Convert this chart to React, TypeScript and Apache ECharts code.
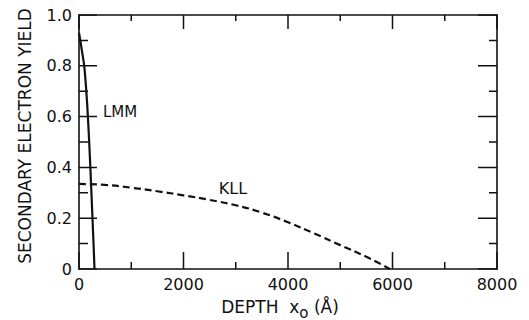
import React, { useEffect, useRef } from "react";
import * as echarts from "echarts";

const lmmDepth = [0, 25, 55, 100, 140, 170, 195, 217, 238, 258, 278, 297];
const lmmYield = [0.93, 0.9, 0.86, 0.8, 0.7, 0.6, 0.5, 0.4, 0.3, 0.2, 0.1, 0];

const kllDepth = [0, 500, 1000, 1500, 2000, 2500, 3000, 3500, 4000, 4500, 5000, 5500, 5950];
const kllYield = [0.335, 0.331, 0.32, 0.306, 0.29, 0.272, 0.251, 0.222, 0.184, 0.14, 0.094, 0.048, 0];

const xTicks = [0, 2000, 4000, 6000, 8000];
const xMinorTicks = [1000, 3000, 5000, 7000];
const yTicks = [0, 0.2, 0.4, 0.6, 0.8, 1.0];
const yMinorTicks = [0.1, 0.3, 0.5, 0.7, 0.9];

const lmmLabel = { text: "LMM", x: 785, y: 0.618 };
const kllLabel = { text: "KLL", x: 2947, y: 0.315 };

const FONT = "DejaVu Sans";
const INK = "#111";

const GRID = { left: 79, right: 32, top: 15, bottom: 51 };
const W = 529;
const H = 320;

function axLine() {
  return { show: true, onZero: false, lineStyle: { color: INK, width: 1.6 } };
}

export default function App() {
  const ref = useRef<HTMLDivElement>(null);
  useEffect(() => {
    if (!ref.current) return;
    const chart = echarts.init(ref.current, null, { renderer: "svg" });
    const pair = (xs: number[], ys: number[]) => xs.map((x, i) => [x, ys[i]]);
    const xMin = xTicks[0];
    const xMax = xTicks[xTicks.length - 1];
    const xInt = xTicks[1] - xTicks[0];
    const yMin = yTicks[0];
    const yMax = yTicks[yTicks.length - 1];
    const yInt = 0.2;

    // pixel -> data-unit conversion for tick lengths
    const plotW = W - GRID.left - GRID.right;
    const plotH = H - GRID.top - GRID.bottom;
    const dx = (px: number) => (px * (xMax - xMin)) / plotW;
    const dy = (px: number) => (px * (yMax - yMin)) / plotH;

    const tickSeries: any[] = [];
    const seg = (a: number[], b: number[]) => ({
      type: "line",
      xAxisIndex: 0,
      yAxisIndex: 0,
      data: [a, b],
      showSymbol: false,
      symbol: "none",
      silent: true,
      z: 3,
      lineStyle: { color: INK, width: 1.5, type: "solid" },
      tooltip: { show: false },
    });
    xTicks.forEach((v) => {
      tickSeries.push(seg([v, yMin], [v, yMin + dy(17)]));
      tickSeries.push(seg([v, yMax], [v, yMax - dy(14)]));
    });
    xMinorTicks.forEach((v) => {
      tickSeries.push(seg([v, yMin], [v, yMin + dy(7)]));
      tickSeries.push(seg([v, yMax], [v, yMax - dy(6)]));
    });
    yTicks.forEach((v) => {
      tickSeries.push(seg([xMin, v], [xMin + dx(18), v]));
      tickSeries.push(seg([xMax, v], [xMax - dx(19), v]));
    });
    yMinorTicks.forEach((v) => {
      tickSeries.push(seg([xMin, v], [xMin + dx(9), v]));
      tickSeries.push(seg([xMax, v], [xMax - dx(8), v]));
    });

    chart.setOption({
      animation: false,
      backgroundColor: "#fff",
      grid: { ...GRID, outerBoundsMode: "none", containLabel: false },
      xAxis: [
        {
          type: "value",
          position: "bottom",
          min: xMin,
          max: xMax,
          interval: xInt,
          splitLine: { show: false },
          axisLine: axLine(),
          axisTick: { show: false },
          axisLabel: {
            show: true,
            margin: 7,
            color: INK,
            fontFamily: FONT,
            fontSize: 16,
            formatter: (v: number) => String(v),
          },
          name: "{a|DEPTH  x}{s|o}{a| (Å)}",
          nameLocation: "middle",
          nameGap: 29,
          nameTextStyle: {
            padding: [0, 16, 0, 0],
            rich: {
              a: { fontFamily: FONT, fontSize: 17, color: INK, verticalAlign: "top", lineHeight: 20 },
              s: { fontFamily: FONT, fontSize: 15, color: INK, verticalAlign: "top", lineHeight: 20, padding: [7, 0, 0, 0] },
            },
          },
        },
        {
          type: "value",
          position: "top",
          min: xMin,
          max: xMax,
          interval: xInt,
          splitLine: { show: false },
          axisLine: axLine(),
          axisTick: { show: false },
          axisLabel: { show: false },
        },
      ],
      yAxis: [
        {
          type: "value",
          position: "left",
          min: yMin,
          max: yMax,
          interval: yInt,
          splitLine: { show: false },
          axisLine: axLine(),
          axisTick: { show: false },
          axisLabel: {
            show: true,
            margin: 7,
            color: INK,
            fontFamily: FONT,
            fontSize: 16,
            formatter: (v: number) => (v === 0 ? "0" : v.toFixed(1)),
          },
          name: "SECONDARY ELECTRON YIELD",
          nameLocation: "middle",
          nameGap: 46,
          nameTextStyle: {
            fontFamily: FONT,
            fontSize: 17,
            color: INK,
            padding: [0, 0, 0, 12],
          },
        },
        {
          type: "value",
          position: "right",
          min: yMin,
          max: yMax,
          interval: yInt,
          splitLine: { show: false },
          axisLine: axLine(),
          axisTick: { show: false },
          axisLabel: { show: false },
        },
      ],
      series: [
        ...tickSeries,
        {
          type: "line",
          name: "LMM",
          xAxisIndex: 0,
          yAxisIndex: 0,
          data: pair(lmmDepth, lmmYield),
          smooth: 0.3,
          showSymbol: false,
          symbol: "none",
          lineStyle: { color: INK, width: 2.2, type: "solid" },
          markPoint: {
            symbol: "circle",
            symbolSize: 0,
            label: {
              show: true,
              position: "inside",
              color: INK,
              fontFamily: FONT,
              fontSize: 15,
              formatter: lmmLabel.text,
            },
            data: [{ coord: [lmmLabel.x, lmmLabel.y] }],
          },
        },
        {
          type: "line",
          name: "KLL",
          xAxisIndex: 0,
          yAxisIndex: 0,
          data: pair(kllDepth, kllYield),
          smooth: 0.5,
          showSymbol: false,
          symbol: "none",
          lineStyle: { color: INK, width: 2.2, type: [7, 4] },
          markPoint: {
            symbol: "circle",
            symbolSize: 0,
            label: {
              show: true,
              position: "inside",
              color: INK,
              fontFamily: FONT,
              fontSize: 16,
              formatter: kllLabel.text,
            },
            data: [{ coord: [kllLabel.x, kllLabel.y] }],
          },
        },
      ],
    });
    return () => chart.dispose();
  }, []);
  return (
    <div
      ref={ref}
      style={{ position: "fixed", left: 0, top: 0, width: W, height: H }}
    />
  );
}
